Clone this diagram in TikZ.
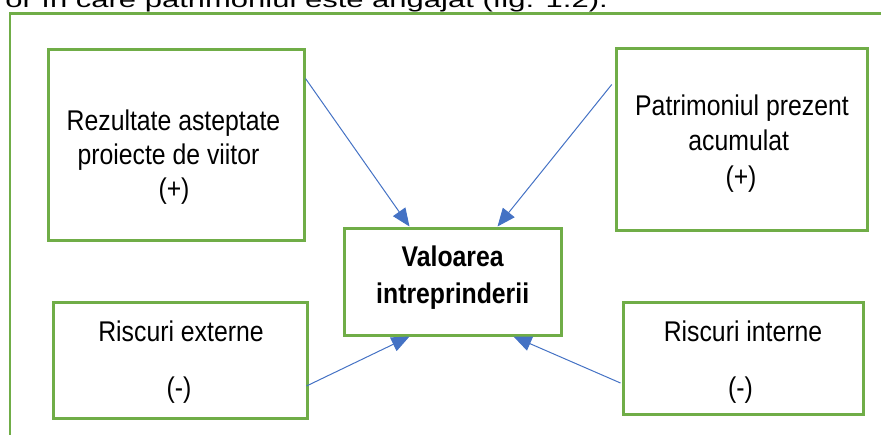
\documentclass[tikz,border=0pt]{standalone}
\usepackage{fontspec}
\setmainfont{Liberation Sans}[FakeStretch=0.87]
\newfontfamily\bodyfont{Liberation Sans}
\usetikzlibrary{arrows.meta,calc}
\definecolor{boxgreen}{RGB}{112,173,71}
\definecolor{arrowblue}{RGB}{68,114,196}
\begin{document}
\begin{tikzpicture}[x=1pt,y=-1pt,
  box/.style={draw=boxgreen,line width=3pt,inner sep=0pt,fill=white},
  txt/.style={anchor=base,inner sep=0pt,font=\fontsize{28.5}{34}\selectfont},
  conn/.style={draw=arrowblue,line width=1pt,-{Triangle[length=18pt,width=15pt]}}]
\clip (0,0) rectangle (881,434);
\useasboundingbox (0,0) rectangle (881,434);
% cut-off line of running text above the figure
\node[anchor=base east,inner sep=0pt,font=\bodyfont\fontsize{31}{36}\selectfont] (toptext) at (608,7.5)
  {\scalebox{1}[0.7]{or în care patrimoniul este angajat (fig. 1.2).}};
% outer frame
\draw[draw=boxgreen,line width=2.5pt] (10,13.7) rectangle (920,470);
% boxes
\node[box,minimum width=256pt,minimum height=191pt] (b1) at (176,144.5) {};
\node[box,minimum width=251pt,minimum height=182pt] (b2) at (741.5,139) {};
\node[box,minimum width=254pt,minimum height=116pt] (b3) at (180,360) {};
\node[box,minimum width=240pt,minimum height=112pt] (b4) at (743,358) {};
\node[box,minimum width=217pt,minimum height=107pt] (c) at (452.5,281.5) {};
% texts
\node[txt] (t1a) at (173.5,130) {Rezultate asteptate};
\node[txt] (t1b) at (168.5,164) {proiecte de viitor};
\node[txt] (t1c) at (174,198) {(+)};
\node[txt] (t2a) at (742,115.7) {Patrimoniul prezent};
\node[txt] (t2b) at (738.7,150.5) {acumulat};
\node[txt] (t2c) at (741,186) {(+)};
\node[txt] (t3a) at (181,341) {Riscuri externe};
\node[txt] (t3b) at (179,397) {(-)};
\node[txt] (t4a) at (743,341) {Riscuri interne};
\node[txt] (t4b) at (740.5,397) {(-)};
\node[txt,font=\bfseries\fontsize{28.5}{34}\selectfont] (tca) at (452.7,266.7) {Valoarea};
\node[txt,font=\bfseries\fontsize{28.5}{34}\selectfont] (tcb) at (452.7,303) {intreprinderii};
% connectors
\draw[conn] ($(b1.north east)+(0,31)$) -- ($(c.north west)+(67,0)$);
\draw[conn] ($(b2.north west)+(-2.75,38)$) -- ($(c.north east)+(-65,0)$);
\draw[conn] ($(b3.east)+(-2,26)$) -- ($(c.south west)+(67,0)$);
\draw[conn] ($(b4.west)+(-1,25)$) -- ($(c.south east)+(-49,0)$);
\end{tikzpicture}
\end{document}
